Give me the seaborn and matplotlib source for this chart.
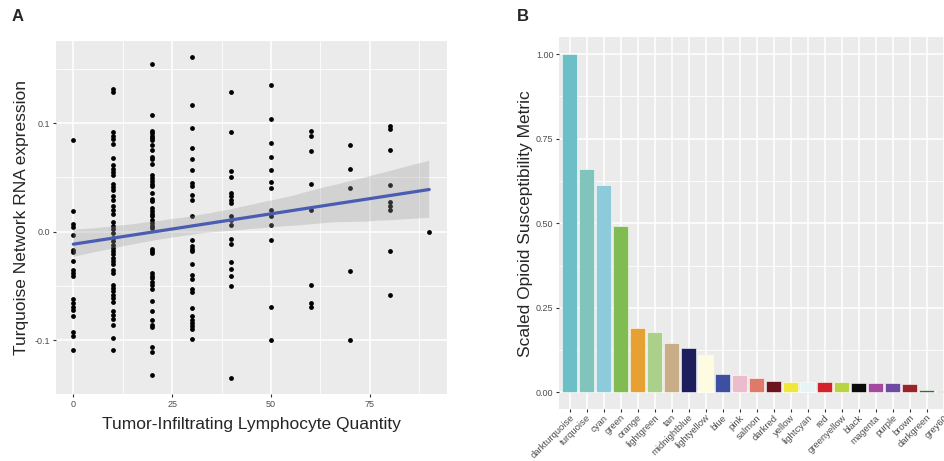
import numpy as np
import pandas as pd
import seaborn as sns
import matplotlib.pyplot as plt
from matplotlib.ticker import FixedLocator
from matplotlib.collections import PolyCollection

# panel A: expression values per TIL quantity
til_0 = [0.084, 0.019, 0.007, 0.004, -0.003, -0.017, -0.019, -0.027, -0.035, -0.038,
         -0.041, -0.062, -0.066, -0.069, -0.072, -0.078, -0.092, -0.096, -0.109]
til_10 = [0.131, 0.129, 0.0915, 0.0885, 0.085, 0.081, 0.068, 0.061, 0.058, 0.055, 0.052,
          0.044, 0.041, 0.038, 0.0325, 0.029, 0.024, 0.020, 0.0166, 0.0086, 0.005, 0.002,
          -0.001, -0.006, -0.009, -0.012, -0.015, -0.018, -0.021, -0.024, -0.027, -0.030,
          -0.035, -0.038, -0.049, -0.052, -0.055, -0.058, -0.061, -0.065, -0.073, -0.077,
          -0.080, -0.086, -0.098, -0.109]
til_20 = [0.1545, 0.107, 0.093, 0.091, 0.088, 0.086, 0.084, 0.080, 0.075, 0.069, 0.067,
          0.062, 0.052, 0.049, 0.047, 0.044, 0.042, 0.036, 0.030, 0.028, 0.022, 0.019,
          0.016, 0.014, 0.011, 0.008, 0.005, 0.0034, -0.016, -0.018, -0.020, -0.038,
          -0.041, -0.043, -0.046, -0.049, -0.053, -0.064, -0.073, -0.081, -0.086, -0.088,
          -0.106, -0.111, -0.132]
til_30 = [0.161, 0.117, 0.095, 0.077, 0.067, 0.057, 0.045, 0.042, 0.034, 0.029, 0.014,
          -0.008, -0.0135, -0.016, -0.018, -0.030, -0.040, -0.044, -0.053, -0.056, -0.070,
          -0.078, -0.081, -0.084, -0.087, -0.090, -0.099]
til_40 = [0.129, 0.0915, 0.0556, 0.050, 0.036, 0.0325, 0.0295, 0.026, 0.014, 0.011,
          0.0065, -0.007, -0.011, -0.028, -0.034, -0.041, -0.050, -0.135]
til_50 = [0.1346, 0.104, 0.082, 0.0685, 0.057, 0.046, 0.040, 0.020, 0.014, 0.0065,
          -0.008, -0.069, -0.0995]
til_60 = [0.093, 0.0885, 0.074, 0.044, 0.0196, -0.049, -0.066, -0.069]
til_70 = [0.080, 0.058, 0.040, -0.036, -0.0995]
til_80 = [0.097, 0.0946, 0.0756, 0.0427, 0.027, 0.0233, 0.020, -0.018, -0.058]
til_90 = [0.0]

til_groups = {0: til_0, 10: til_10, 20: til_20, 30: til_30, 40: til_40,
              50: til_50, 60: til_60, 70: til_70, 80: til_80, 90: til_90}

# panel B: module susceptibility
modules = ['darkturquoise', 'turquoise', 'cyan', 'green', 'orange', 'lightgreen', 'tan',
           'midnightblue', 'lightyellow', 'blue', 'pink', 'salmon', 'darkred', 'yellow',
           'lightcyan', 'red', 'greenyellow', 'black', 'magenta', 'purple', 'brown',
           'darkgreen', 'grey60']
susceptibility = [1.0, 0.661, 0.613, 0.492, 0.189, 0.178, 0.146, 0.130, 0.110, 0.054,
                  0.051, 0.044, 0.034, 0.030, 0.030, 0.030, 0.030, 0.028, 0.0275, 0.0275,
                  0.0245, 0.006, 0.004]
module_colors = ['#6CBFC6', '#80C4BB', '#8DCBDC', '#80BC52', '#E6A033', '#AAD08A', '#C8AD86',
                 '#1D1F5C', '#FDFCE0', '#3D4FA0', '#EBBCCB', '#DF7A6B', '#6B1420', '#EFE83A',
                 '#E6F4F6', '#D4222D', '#B8D444', '#0A0A0A', '#A24A9E', '#6E4AA0', '#962428',
                 '#3B6B3A', '#999999']

df_a = pd.DataFrame([(k, v) for k, vals in til_groups.items() for v in vals],
                    columns=['til', 'expr'])
df_b = pd.DataFrame({'module': modules, 'metric': susceptibility})

sns.set_style('darkgrid', {'axes.facecolor': '#EBEBEB', 'grid.color': 'white'})
plt.rcParams['font.family'] = ['Liberation Sans', 'DejaVu Sans']

tick_col = '#4D4D4D'
fig = plt.figure(figsize=(9.44, 4.61), dpi=100)

# ---- panel A
ax1 = fig.add_axes([0.0588, 0.1453, 0.4147, 0.7668])
sns.regplot(data=df_a, x='til', y='expr', ax=ax1, seed=0,
            scatter_kws=dict(s=12, color='black', linewidths=0, alpha=1),
            line_kws=dict(color='#4A5DB3', linewidth=2.3))
for c in ax1.collections:
    if isinstance(c, PolyCollection):
        c.set_facecolor('#999999')
        c.set_alpha(0.3)
        c.set_edgecolor('none')
ax1.set_xlim(-4.5, 94.5)
ax1.set_ylim(-0.1495, 0.176)
ax1.xaxis.set_major_locator(FixedLocator([0, 25, 50, 75]))
ax1.xaxis.set_minor_locator(FixedLocator([12.5, 37.5, 62.5, 87.5]))
ax1.yaxis.set_major_locator(FixedLocator([-0.1, 0.0, 0.1]))
ax1.yaxis.set_minor_locator(FixedLocator([-0.05, 0.05, 0.15]))
ax1.set_xticklabels(['0', '25', '50', '75'])
ax1.set_yticklabels(['-0.1', '0.0', '0.1'])
ax1.set_xlabel('Tumor-Infiltrating Lymphocyte Quantity', fontsize=12.5, labelpad=6)
ax1.set_ylabel('Turquoise Network RNA expression', fontsize=12.5, labelpad=4)

# ---- panel B
ax2 = fig.add_axes([0.5925, 0.1121, 0.4178, 0.807])
sns.barplot(data=df_b, x='module', y='metric', hue='module', palette=module_colors,
            legend=False, width=0.9, ax=ax2, saturation=1, edgecolor='white', linewidth=0.4)
ax2.set_xlim(-0.6, 22.6)
ax2.set_ylim(-0.05, 1.05)
ax2.yaxis.set_major_locator(FixedLocator([0, 0.25, 0.5, 0.75, 1.0]))
ax2.yaxis.set_minor_locator(FixedLocator([0.125, 0.375, 0.625, 0.875]))
ax2.set_yticklabels(['0.00', '0.25', '0.50', '0.75', '1.00'])
ax2.set_xticks(range(len(modules)))
ax2.set_xticklabels(modules, rotation=45, ha='right', va='top', rotation_mode='anchor')
ax2.set_xlabel('')
ax2.set_ylabel('Scaled Opioid Susceptibility Metric', fontsize=12.5, labelpad=2)

for ax in (ax1, ax2):
    ax.set_axisbelow(True)
    ax.grid(which='major', color='white', linewidth=1.1)
    ax.grid(which='minor', color='white', linewidth=0.6)
    for s in ax.spines.values():
        s.set_visible(False)
    ax.tick_params(which='major', length=2.2, width=0.8, color='#333333',
                   labelcolor=tick_col, labelsize=6.5, pad=2, bottom=True, left=True)
    ax.tick_params(which='minor', length=0)
ax2.tick_params(axis='x', labelsize=6.8, pad=0.5)

fig.text(0.012, 0.955, 'A', fontsize=12, fontweight='bold')
fig.text(0.548, 0.955, 'B', fontsize=12, fontweight='bold')

fig.savefig('out.png', dpi=100)
